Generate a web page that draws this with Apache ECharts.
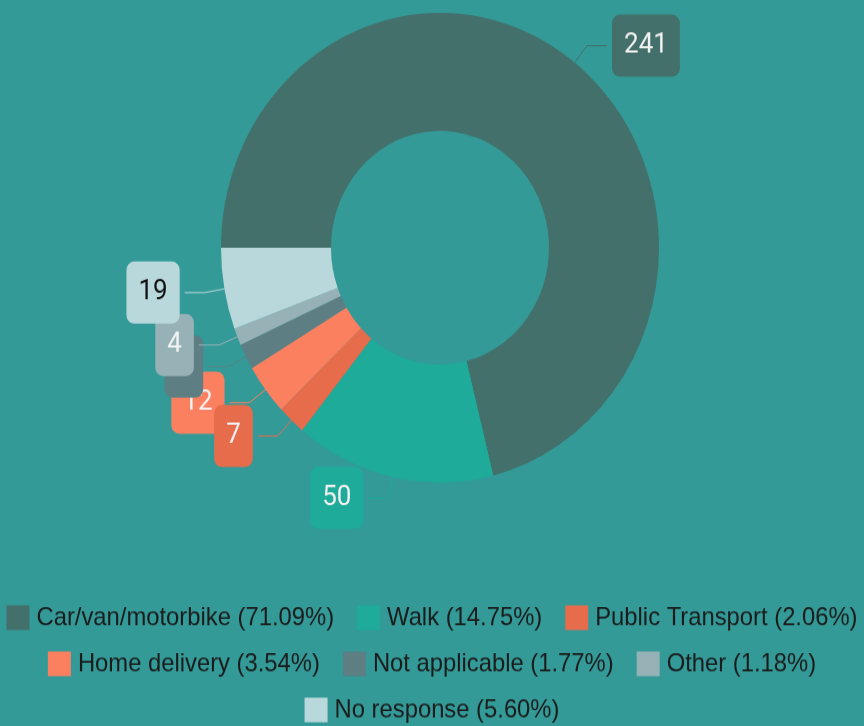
<!DOCTYPE html>
<html>
<head>
<meta charset="utf-8">
<script src="https://cdn.jsdelivr.net/npm/echarts@6/dist/echarts.min.js"></script>
<style>
  html, body { margin: 0; padding: 0; background: #339a98; overflow: hidden; width: 864px; height: 726px; }
  #chart { width: 864px; height: 700px; transform: scaleY(1.0724); transform-origin: 0 0; }
</style>
</head>
<body>
<div id="chart"></div>
<script>
// data
var categories = ['Car/van/motorbike', 'Walk', 'Public Transport', 'Home delivery', 'Not applicable', 'Other', 'No response'];
var values = [241, 50, 7, 12, 6, 4, 19];
var colors = ['#44706b', '#1eab99', '#e76c4c', '#fb8060', '#5d7f84', '#97b2b6', '#b9d8dc'];
var labelTextColors = ['#f2f2f2', '#f2f2f2', '#f2f2f2', '#f2f2f2', '#f2f2f2', '#f2f2f2', '#111111'];

var total = values.reduce(function (a, b) { return a + b; }, 0);
var pctByName = {};
categories.forEach(function (c, i) { pctByName[c] = (values[i] / total * 100).toFixed(2); });

// which labels each layer shows (later layers draw on top)
var layers = [[3], [4], [5, 6], [2, 0, 1]];

function makeData(show, transparent) {
  return categories.map(function (name, i) {
    var on = show.indexOf(i) >= 0;
    return {
      name: name,
      value: values[i],
      itemStyle: { color: transparent ? 'rgba(0,0,0,0)' : colors[i] },
      label: { show: on, backgroundColor: colors[i], color: labelTextColors[i] },
      labelLine: { show: on, lineStyle: { color: colors[i] } }
    };
  });
}

var series = layers.map(function (show, k) {
  return {
    type: 'pie',
    z: 2 + k,
    silent: k > 0,
    center: [440, 231],
    radius: [109, 219],
    startAngle: 180,
    clockwise: true,
    avoidLabelOverlap: false,
    labelLayout: { hideOverlap: false },
    emphasis: { disabled: true },
    label: {
      position: 'outside',
      formatter: '{c}',
      fontFamily: 'Roboto',
      fontSize: 26,
      padding: [16, 12],
      borderRadius: 8
    },
    labelLine: { length: 20, length2: 20, lineStyle: { width: 1 } },
    data: makeData(show, k > 0)
  };
});

function legendRow(names, top) {
  return {
    data: names,
    top: top,
    left: 'center',
    padding: 0,
    icon: 'rect',
    itemWidth: 23,
    itemHeight: 23,
    itemGap: 23,
    textStyle: { color: '#1b1b1b', fontSize: 23.8, fontFamily: 'Liberation Sans', padding: [0, 0, 0, 2] },
    formatter: function (name) { return name + ' (' + pctByName[name] + '%)'; }
  };
}

var chart = echarts.init(document.getElementById('chart'));
chart.setOption({
  backgroundColor: '#339a98',
  animation: false,
  legend: [
    legendRow(categories.slice(0, 3), 564),
    legendRow(categories.slice(3, 6), 607),
    legendRow(categories.slice(6), 650)
  ],
  series: series
});
</script>
</body>
</html>
